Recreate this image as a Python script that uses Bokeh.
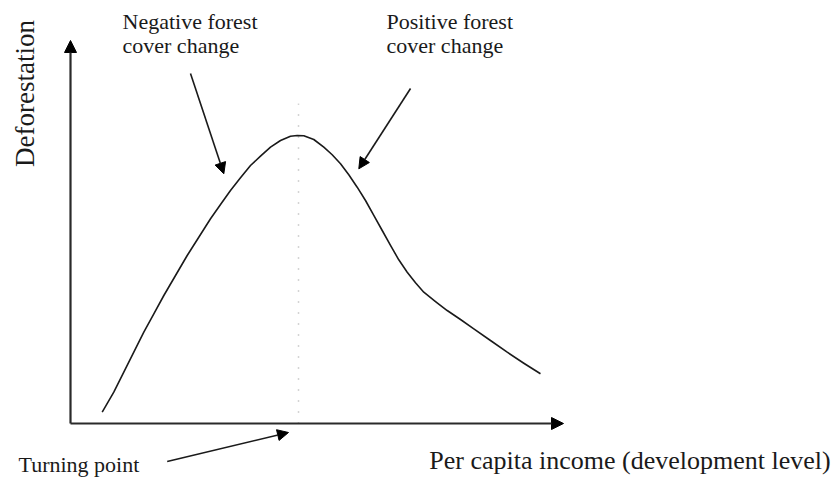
from bokeh.plotting import figure
from bokeh.models import Range1d, Arrow, NormalHead
from bokeh.core.properties import value
from bokeh.embed import file_html
from bokeh.resources import INLINE

# Environmental Kuznets curve for deforestation (index units 0-100)
income = [6.43, 8.78, 10.81, 12.84, 14.87, 16.90, 18.93, 21.30, 23.67, 26.02, 28.40,
          30.43, 32.45, 34.48, 36.51, 38.54, 40.57, 42.60, 44.62, 45.98, 47.32, 49.35,
          51.38, 53.08, 54.77, 56.45, 58.15, 59.84, 61.52, 63.23, 64.91, 66.59, 68.30,
          69.98, 71.66, 74.04, 76.41, 79.11, 81.81, 85.19, 88.58, 91.95, 95.33]
deforestation = [2.95, 8.17, 13.39, 18.62, 23.84, 28.64, 33.42, 38.64, 43.86, 48.64, 53.45,
                 57.18, 60.84, 64.15, 67.36, 69.79, 72.14, 73.89, 75.01, 75.20, 75.12, 74.15,
                 72.14, 70.16, 67.81, 64.93, 61.70, 58.22, 54.31, 50.39, 46.48, 42.74, 39.50,
                 36.74, 34.28, 31.85, 29.50, 27.15, 24.73, 21.67, 18.62, 15.74, 12.98]
turning_point = 46.25

x_label = "Per capita income (development level)"
y_label = "Deforestation"
neg_label = ["Negative forest", "cover change"]
pos_label = ["Positive forest", "cover change"]
tp_label = "Turning point"

SERIF = value("Liberation Serif")
INK = "#1a1a1a"

p = figure(width=834, height=479, output_backend="svg", toolbar_location=None,
           x_range=Range1d(-14.20, 154.97), y_range=Range1d(-14.62, 110.44),
           min_border=0)
p.axis.visible = False
p.grid.visible = False
p.outline_line_color = None
p.background_fill_color = "white"
p.border_fill_color = "white"

# axes with arrow heads
p.add_layout(Arrow(x_start=0, y_start=0, x_end=0, y_end=100, line_width=2.2,
                   line_color="#2a2a2a",
                   end=NormalHead(size=12, fill_color="black", line_color="black")))
p.add_layout(Arrow(x_start=0, y_start=0, x_end=100, y_end=0, line_width=2.2,
                   line_color="#2a2a2a",
                   end=NormalHead(size=12, fill_color="black", line_color="black")))

# dotted turning point line
p.line(x=[turning_point, turning_point], y=[0, 83.5], line_color="#aaaaaa",
       line_width=1.5, line_dash="1 10")

# curve
p.line(x=income, y=deforestation, line_color=INK, line_width=1.6, line_join="round")

# annotation arrows
for xs, ys, xe, ye in [(24.34, 91.38, 31.10, 65.20),
                       (68.97, 87.47, 58.48, 66.50),
                       (19.61, -9.92, 44.22, -2.35)]:
    p.add_layout(Arrow(x_start=xs, y_start=ys, x_end=xe, y_end=ye, line_width=1.6,
                       line_color=INK,
                       end=NormalHead(size=11, fill_color="black", line_color="black")))

# texts
p.text(x=[10.55, 10.55], y=[104.88, 98.61], text=neg_label, text_font=SERIF,
       text_font_size=value("22px"), text_color=INK,
       text_align="left", text_baseline="alphabetic")
p.text(x=[64.1, 64.1], y=[104.88, 98.61], text=pos_label, text_font=SERIF,
       text_font_size=value("22px"), text_color=INK,
       text_align="left", text_baseline="alphabetic")
p.text(x=[-10.55], y=[-10.70], text=[tp_label], text_font=SERIF,
       text_font_size=value("22px"), text_color=INK,
       text_align="left", text_baseline="alphabetic")
p.text(x=[154.2], y=[-9.66], text=[x_label], text_font=SERIF,
       text_font_size=value("26px"), text_color=INK,
       text_align="right", text_baseline="alphabetic")
p.text(x=[-9.33], y=[86.16], text=[y_label], text_font=SERIF,
       text_font_size=value("27px"), text_color=INK,
       text_align="center", text_baseline="middle", angle=1.5708)

open("out.html", "w").write(file_html(p, INLINE))
